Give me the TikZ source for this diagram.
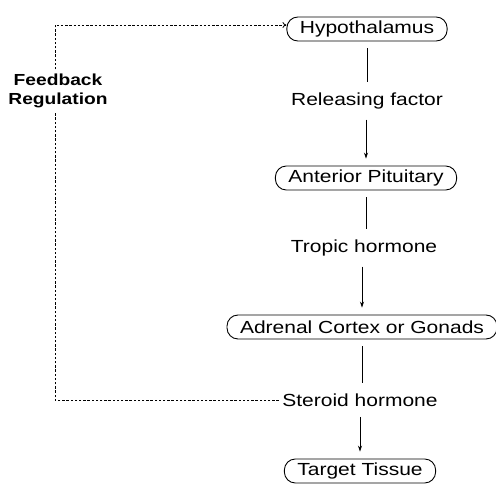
\documentclass[tikz,border=0pt]{standalone}
\usepackage{fontspec}
\setmainfont{Liberation Sans}[FakeStretch=1.2]
\usetikzlibrary{arrows.meta}
\begin{document}
\begin{tikzpicture}[x=1pt,y=-1pt,
  pill/.style={draw, line width=0.9pt, rounded corners=11pt, minimum height=24pt, inner xsep=13pt, font=\fontsize{17.5}{21}\selectfont},
  msg/.style={font=\fontsize{17.5}{21}\selectfont},
  flow/.style={line width=0.8pt, shorten <=7pt, shorten >=7pt},
  fbline/.style={line width=0.8pt, dash pattern=on 2.4pt off 1.8pt}]
\useasboundingbox (0,0) rectangle (496,489);
\node[pill] (hypo) at (367,29) {Hypothalamus};
\node[msg] (rf) at (367,101) {Releasing factor};
\node[pill] (ap) at (366,178) {Anterior Pituitary};
\node[msg] (tropic) at (364,248) {Tropic hormone};
\node[pill] (adr) at (362,327) {Adrenal Cortex or Gonads};
\node[msg] (steroid) at (360,400) {Steroid hormone};
\node[pill] (target) at (360,471) {Target Tissue};
\coordinate (fbtop) at (55,25);
\draw[flow] (hypo.south) -- (hypo.south |- rf.north);
\draw[flow, -{Stealth[length=6pt,width=4pt]}] (ap.north |- rf.south) -- (ap.north);
\draw[flow] (ap.south) -- (ap.south |- tropic.north);
\draw[flow, -{Stealth[length=6pt,width=4pt]}] (adr.north |- tropic.south) -- (adr.north);
\draw[flow] (adr.south) -- (adr.south |- steroid.north);
\draw[flow, -{Stealth[length=6pt,width=4pt]}] (target.north |- steroid.south) -- (target.north);
\draw[fbline, -{To[length=4pt,width=6pt]}] (steroid.west) -| (fbtop) -- (fbtop -| hypo.west);
\node[fill=white, align=center, inner sep=4pt, font=\fontsize{16}{19}\selectfont\bfseries] (fb) at (58,91) {Feedback\\Regulation};
\end{tikzpicture}
\end{document}
